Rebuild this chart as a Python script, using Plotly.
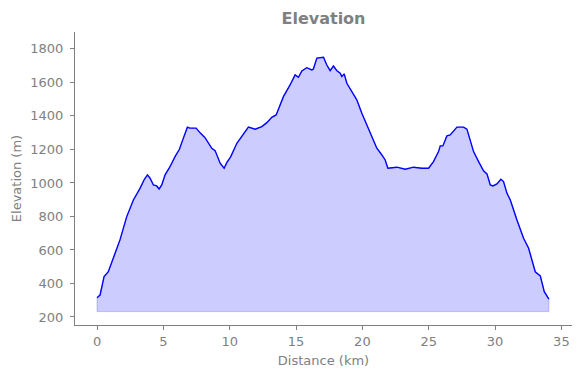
import plotly.graph_objects as go

distance_km = [0.0, 0.23, 0.53, 0.85, 1.36, 1.73, 2.24, 2.74, 3.24, 3.57, 3.8, 4.0, 4.25, 4.5, 4.68,
               4.88, 5.13, 5.5, 5.88, 6.21, 6.46, 6.81, 7.0, 7.47, 7.77, 8.14, 8.65, 8.9, 9.28, 9.58,
               9.78, 10.08, 10.54, 10.91, 11.41, 11.92, 12.42, 12.8, 13.17, 13.5, 14.05, 14.55, 14.93,
               15.18, 15.44, 15.81, 16.19, 16.3, 16.57, 17.07, 17.32, 17.57, 17.82, 18.08, 18.33, 18.45,
               18.63, 18.83, 19.21, 19.58, 19.96, 20.34, 20.72, 21.09, 21.47, 21.72, 21.92, 22.6, 23.23,
               23.86, 24.49, 24.99, 25.36, 25.74, 25.87, 26.07, 26.37, 26.62, 27.13, 27.63, 27.88, 28.13,
               28.38, 28.76, 29.13, 29.39, 29.64, 29.84, 30.14, 30.44, 30.64, 30.9, 31.15, 31.65, 32.15,
               32.53, 33.03, 33.41, 33.71, 34.06]
elevation_m = [315, 331, 441, 470, 580, 660, 799, 898, 968, 1022, 1048, 1028, 988, 982, 964,
               988, 1048, 1097, 1157, 1201, 1257, 1333, 1327, 1327, 1299, 1270, 1207, 1193, 1118, 1088,
               1121, 1157, 1237, 1281, 1333, 1321, 1336, 1360, 1392, 1406, 1515, 1585, 1645,
               1631, 1669, 1688, 1675, 1679, 1745, 1750, 1704, 1670, 1698, 1670, 1655, 1635,
               1651, 1595, 1545, 1496, 1416, 1346, 1276, 1207, 1167, 1137, 1088, 1094, 1082,
               1094, 1088, 1088, 1127, 1187, 1221, 1221, 1281, 1287, 1333, 1333, 1321, 1257,
               1187, 1127, 1073, 1054, 988, 982, 994, 1022, 1008, 938, 898, 779, 670,
               610, 470, 445, 351, 306]
fill_base_m = 232

x_ticks = [0, 5, 10, 15, 20, 25, 30, 35]
y_ticks = [200, 400, 600, 800, 1000, 1200, 1400, 1600, 1800]

grey = "#808080"
font_family = "DejaVu Sans"

fig = go.Figure()
fig.add_trace(go.Scatter(
    x=distance_km + [distance_km[-1], distance_km[0], distance_km[0]],
    y=elevation_m + [fill_base_m, fill_base_m, elevation_m[0]],
    mode="lines", fill="toself",
    fillcolor="rgba(0,0,255,0.2)",
    line=dict(color="rgba(0,0,255,0.2)", width=1),
    hoverinfo="skip", showlegend=False,
))
fig.add_trace(go.Scatter(
    x=distance_km, y=elevation_m, mode="lines",
    line=dict(color="#0000ff", width=1.4),
    showlegend=False,
))

axis_common = dict(
    showgrid=False, zeroline=False, showline=True, linecolor=grey, linewidth=1,
    ticks="outside", ticklen=4, tickcolor=grey, tickwidth=1,
    tickfont=dict(family=font_family, size=13, color=grey),
    title_font=dict(family=font_family, size=13, color=grey),
    mirror=False, automargin=False,
)

# the page body has an 8px margin, so the figure is sized to fit inside it
fig.update_layout(
    width=564, height=362,
    margin=dict(l=67, r=0, t=24, b=45),
    paper_bgcolor="white", plot_bgcolor="white",
    title=dict(text="<b>Elevation</b>", x=0.5, xref="paper", xanchor="center",
               y=1, yref="container", yanchor="top", pad=dict(t=5),
               font=dict(family=font_family, size=16, color=grey)),
    xaxis=dict(range=[-1.66, 35.8], tickvals=x_ticks, title=dict(text="Distance (km)", standoff=8),
               **axis_common),
    yaxis=dict(range=[152, 1901], tickvals=y_ticks, title=dict(text="Elevation (m)", standoff=5),
               ticklabelstandoff=4, **axis_common),
)

fig.write_html("out.html")
